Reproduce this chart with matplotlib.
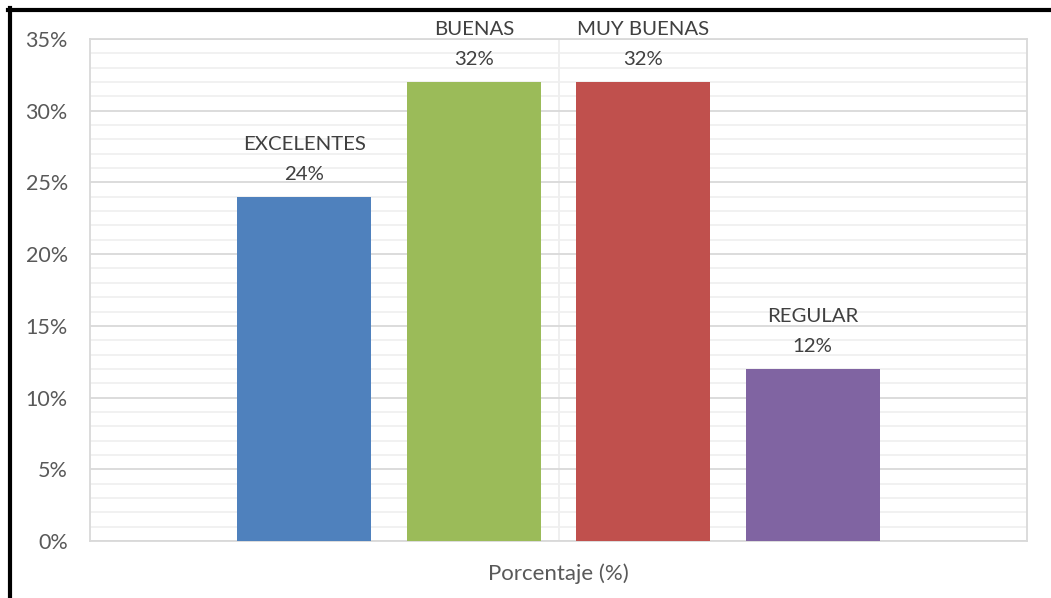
import numpy as np
import matplotlib.pyplot as plt
from matplotlib.lines import Line2D
from matplotlib.ticker import MultipleLocator, PercentFormatter

series = ['EXCELENTES', 'BUENAS', 'MUY BUENAS', 'REGULAR']
values = [0.24, 0.32, 0.32, 0.12]
colors = ['#4f81bd', '#9bbb59', '#c0504d', '#8064a2']
category = 'Porcentaje (%)'

plt.rcParams['font.family'] = ['Lato', 'DejaVu Sans']

fig = plt.figure(figsize=(10.51, 5.98), dpi=100)
ax = fig.add_axes([90 / 1051, 1 - 541 / 598, 937 / 1051, 502 / 598])

step = 169.5 / 937
width = 134 / 937
offsets = (np.arange(len(series)) - (len(series) - 1) / 2) * step

lbl = dict(textcoords='offset points', ha='center', va='bottom',
           fontsize=14.7, color='#404040')
for off, name, val, col in zip(offsets, series, values, colors):
    ax.bar(off, val, width=width, color=col, zorder=3)
    ax.annotate(f'{val:.0%}', (off, val), xytext=(0, 10), **lbl)
    ax.annotate(name, (off, val), xytext=(0, 31.5), **lbl)

ax.set_xlim(-0.5, 0.5)
ax.set_ylim(0, 0.35)
ax.yaxis.set_major_locator(MultipleLocator(0.05))
ax.yaxis.set_minor_locator(MultipleLocator(0.01))
ax.yaxis.set_major_formatter(PercentFormatter(1.0, decimals=0))
ax.grid(which='major', axis='y', color='#d9d9d9', lw=1.3, zorder=1)
ax.grid(which='minor', axis='y', color='#f0f0f0', lw=1.3, zorder=1)
ax.axvline(0, color='#eeeeee', lw=1.3, zorder=1)
ax.set_xticks([])
ax.set_xlabel(category, fontsize=16, color='#595959', labelpad=16)
ax.tick_params(axis='y', which='both', length=0, labelsize=15.5,
               labelcolor='#595959', pad=16)
for sp in ax.spines.values():
    sp.set_color('#d9d9d9')
    sp.set_linewidth(1.3)

# black frame round the figure
fig.add_artist(Line2D([8 / 1051, 1], [1 - 9.5 / 598] * 2, color='black',
                      lw=3, transform=fig.transFigure))
fig.add_artist(Line2D([9.5 / 1051] * 2, [0, 1 - 8 / 598], color='black',
                      lw=3, transform=fig.transFigure))

fig.savefig('out.png', dpi=100)
